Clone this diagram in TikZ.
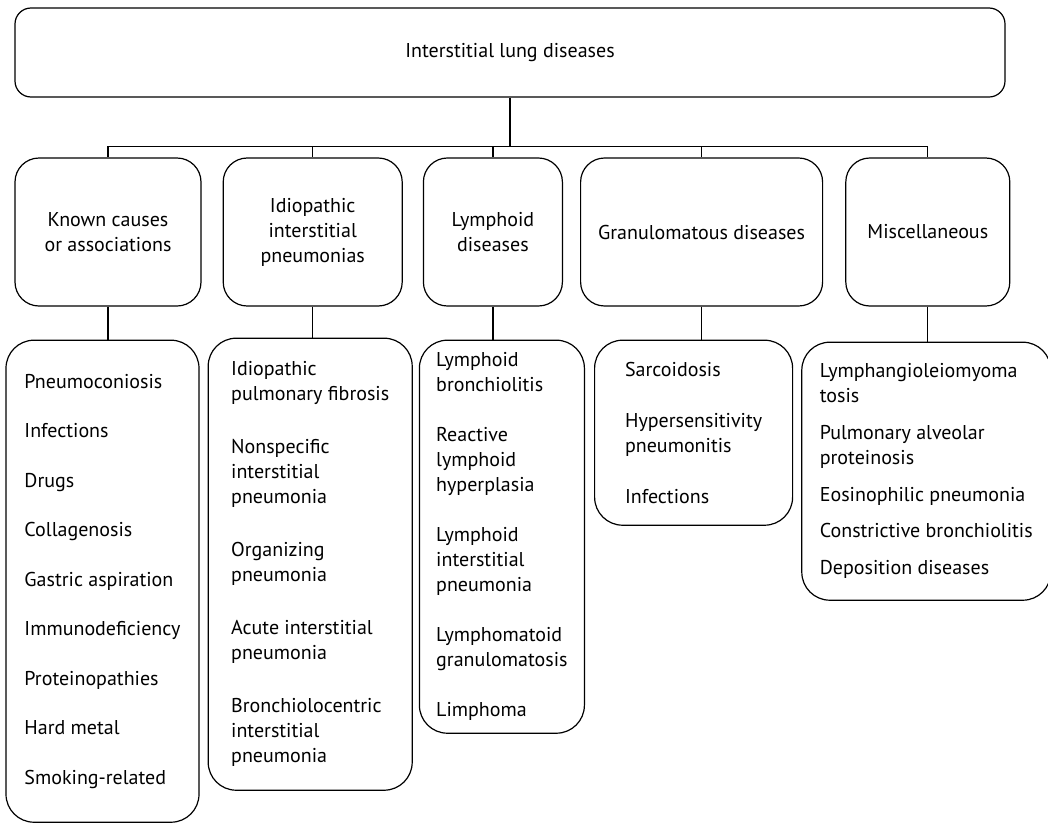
\documentclass[tikz,border=0pt]{standalone}
\usepackage{fontspec}
\setmainfont{PT Sans}
\usetikzlibrary{positioning}

\begin{document}
\begin{tikzpicture}[
	x=1pt, y=-1pt,
	node distance = 21pt,
	box/.style = {rectangle, draw, line width=1.2pt, rounded corners=24pt, align=center, inner sep=0pt, font=\fontsize{20}{25}\selectfont},
	head/.style = {box, rounded corners=16pt, minimum width=990pt, minimum height=89pt},
	group/.style = {box, minimum height=148pt},
	list/.style = {box, align=left, rounded corners=28pt},
	line/.style = {draw, line width=1.2pt}
	]
	\useasboundingbox (0,0) rectangle (1048,822);
	
	% Nodes
	\node [head] (ild) at (510,52.5) {Interstitial lung diseases};
	\coordinate [below=49pt of ild] (bus);
	
	\node [group, minimum width=186pt] (known) at (108,232) {Known causes\\or associations};
	\node [group, minimum width=179pt, right=of known] (idio) {Idiopathic\\interstitial\\pneumonias};
	\node [group, minimum width=139pt, right=20pt of idio] (lymph) {Lymphoid\\diseases};
	\node [group, minimum width=242pt, right=17pt of lymph] (granul) {Granulomatous diseases};
	\node [group, minimum width=164pt, right=22pt of granul] (misc) {Miscellaneous};
	
	% Lists
	\node [list, minimum width=193pt, minimum height=482pt, below=33pt of known, xshift=-5.5pt] (causes) {Pneumoconiosis\\[24.5pt]Infections\\[24.5pt]Drugs\\[24.5pt]Collagenosis\\[24.5pt]Gastric aspiration\\[24.5pt]Immunodeficiency\\[24.5pt]Proteinopathies\\[24.5pt]Hard metal\\[24.5pt]Smoking-related};
	\node [list, minimum width=204pt, minimum height=452pt, below=31pt of idio, xshift=-2.5pt] (iip) {Idiopathic\\pulmonary fibrosis\\[28pt]Nonspecific\\interstitial\\pneumonia\\[28pt]Organizing\\pneumonia\\[28pt]Acute interstitial\\pneumonia\\[28pt]Bronchiolocentric\\interstitial\\pneumonia};
	\node [list, minimum width=165pt, minimum height=393pt, below=33pt of lymph, xshift=9pt] (lymphoid) {Lymphoid\\bronchiolitis\\[25pt]Reactive\\lymphoid\\hyperplasia\\[25pt]Lymphoid\\interstitial\\pneumonia\\[25pt]Lymphomatoid\\granulomatosis\\[25pt]Limphoma};
	\node [list, minimum width=198pt, minimum height=185pt, below=33pt of granul, xshift=-8pt] (granuloma) {Sarcoidosis\\[26pt]Hypersensitivity\\pneumonitis\\[26pt]Infections};
	\node [list, minimum width=249pt, minimum height=258pt, below=35pt of misc, xshift=-1.5pt] (other) {Lymphangioleiomyoma\\tosis\\[12pt]Pulmonary alveolar\\proteinosis\\[12pt]Eosinophilic pneumonia\\[11pt]Constrictive bronchiolitis\\[12pt]Deposition diseases};
	
	% Lines
	\path [line] (ild) -- (bus);
	\path [line] (bus) -| (known);
	\path [line] (bus) -| (idio);
	\path [line] (bus) -| (lymph);
	\path [line] (bus) -| (granul);
	\path [line] (bus) -| (misc);
	
	\path [line] (known) -- (known |- causes.north);
	\path [line] (idio) -- (idio |- iip.north);
	\path [line] (lymph) -- (lymph |- lymphoid.north);
	\path [line] (granul) -- (granul |- granuloma.north);
	\path [line] (misc) -- (misc |- other.north);
\end{tikzpicture}
\end{document}
